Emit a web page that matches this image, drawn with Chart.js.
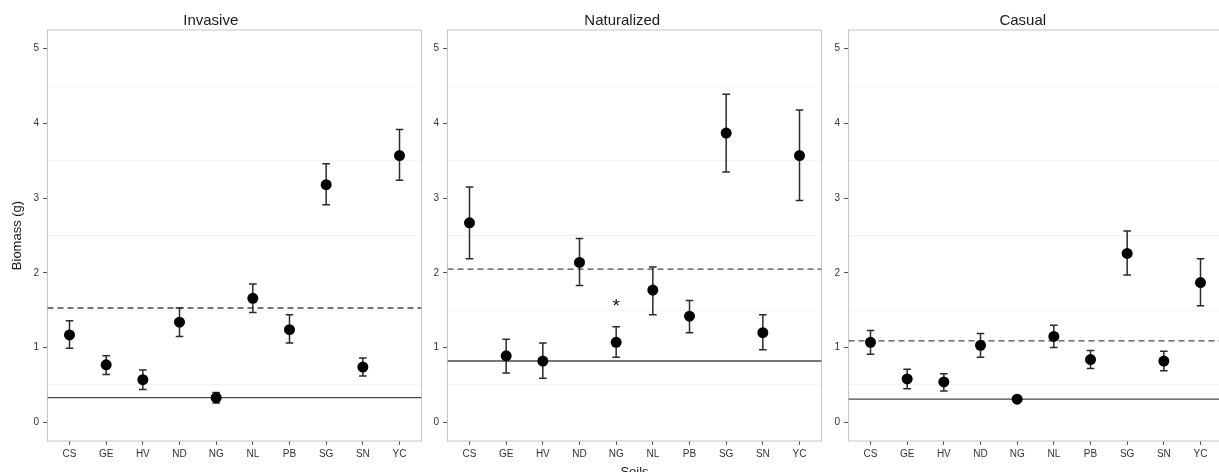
<!DOCTYPE html>
<html>
<head>
<meta charset="utf-8">
<script src="https://cdn.jsdelivr.net/npm/chart.js@4"></script>
<style>
  html, body { margin: 0; padding: 0; background: #fff; overflow: hidden; }
  #wrap { position: relative; width: 1219px; height: 472px; overflow: hidden; }
  #wrap canvas { position: absolute; top: 0; }
</style>
</head>
<body>
<div id="wrap">
  <canvas id="invasive" width="423" height="490" style="left:0px"></canvas>
  <canvas id="naturalized" width="400" height="490" style="left:423px"></canvas>
  <canvas id="casual" width="401" height="490" style="left:823px"></canvas>
</div>
<script>
const soils = ['CS', 'GE', 'HV', 'ND', 'NG', 'NL', 'PB', 'SG', 'SN', 'YC'];
const yTicks = [0, 0.5, 1, 1.5, 2, 2.5, 3, 3.5, 4, 4.5, 5];

// Invasive
const invMean  = [1.17, 0.77, 0.57, 1.34, 0.33, 1.66, 1.24, 3.18, 0.74, 3.57];
const invLower = [0.99, 0.64, 0.44, 1.15, 0.26, 1.47, 1.06, 2.91, 0.62, 3.24];
const invUpper = [1.36, 0.89, 0.70, 1.53, 0.40, 1.85, 1.44, 3.46, 0.86, 3.92];
const invDashed = 1.53;
const invSolid = 0.33;

// Naturalized
const natMean  = [2.67, 0.89, 0.82, 2.14, 1.07, 1.77, 1.42, 3.87, 1.20, 3.57];
const natLower = [2.19, 0.66, 0.59, 1.83, 0.87, 1.44, 1.20, 3.35, 0.97, 2.97];
const natUpper = [3.15, 1.11, 1.06, 2.46, 1.28, 2.08, 1.63, 4.39, 1.44, 4.18];
const natDashed = 2.05;
const natSolid = 0.82;
const natStar = { soil: 'NG', y: 1.6 };

// Casual
const casMean  = [1.07, 0.58, 0.54, 1.03, 0.31, 1.15, 0.84, 2.26, 0.82, 1.87];
const casLower = [0.91, 0.45, 0.42, 0.87, 0.28, 1.00, 0.72, 1.97, 0.69, 1.56];
const casUpper = [1.23, 0.71, 0.65, 1.19, 0.33, 1.30, 0.96, 2.56, 0.95, 2.19];
const casDashed = 1.09;
const casSolid = 0.31;

Chart.defaults.font.family = '"Liberation Sans", Arial, Helvetica, sans-serif';
Chart.defaults.animation = false;

const AREA_BOTTOM_GAP = 49;

// frame around the plot area, error bars under the points, optional star marker
const panelDecor = {
    id: 'panelDecor',
    beforeDatasetsDraw(chart) {
        const { ctx, chartArea: a } = chart;
        ctx.save();
        ctx.strokeStyle = '#c6c6c6';
        ctx.lineWidth = 1;
        ctx.strokeRect(a.left, a.top, a.right - a.left, a.bottom - a.top);
        ctx.restore();
    },
    beforeDatasetDraw(chart, args, opts) {
        if (args.index !== 0 || !opts.lower) return;
        const { ctx, scales: { x, y } } = chart;
        ctx.save();
        ctx.strokeStyle = '#2b2b2b';
        ctx.lineWidth = 1.5;
        opts.lower.forEach((lo, i) => {
            const px = x.getPixelForValue(i + 1);
            const y0 = y.getPixelForValue(lo);
            const y1 = y.getPixelForValue(opts.upper[i]);
            ctx.beginPath();
            ctx.moveTo(px, y0); ctx.lineTo(px, y1);
            ctx.moveTo(px - 3.8, y0); ctx.lineTo(px + 3.8, y0);
            ctx.moveTo(px - 3.8, y1); ctx.lineTo(px + 3.8, y1);
            ctx.stroke();
        });
        ctx.restore();
    },
    afterDatasetsDraw(chart, args, opts) {
        if (!opts.star) return;
        const { ctx, scales: { x, y } } = chart;
        const px = x.getPixelForValue(soils.indexOf(opts.star.soil) + 1);
        const py = y.getPixelForValue(opts.star.y);
        ctx.save();
        ctx.font = '19px "Liberation Sans", Arial, sans-serif';
        ctx.fillStyle = '#111';
        ctx.textAlign = 'center';
        ctx.textBaseline = 'alphabetic';
        const m = ctx.measureText('*');
        ctx.fillText('*', px, py + (m.actualBoundingBoxAscent - m.actualBoundingBoxDescent) / 2);
        ctx.restore();
    }
};

function makePanel(id, title, mean, lower, upper, dashed, solid, opts) {
    const hline = v => [{ x: 0.4, y: v }, { x: 10.6, y: v }];
    new Chart(document.getElementById(id), {
        type: 'scatter',
        data: {
            datasets: [
                {
                    data: mean.map((v, i) => ({ x: i + 1, y: v })),
                    pointRadius: 5.5,
                    pointBackgroundColor: '#000',
                    pointBorderColor: '#000',
                    pointBorderWidth: 0
                },
                {
                    type: 'line',
                    data: hline(dashed),
                    borderColor: '#4a4a4a',
                    borderWidth: 1.4,
                    borderDash: [6, 4],
                    pointRadius: 0
                },
                {
                    type: 'line',
                    data: hline(solid),
                    borderColor: '#4a4a4a',
                    borderWidth: 1.4,
                    pointRadius: 0
                }
            ]
        },
        options: {
            responsive: false,
            layout: { autoPadding: false, padding: { top: 0, left: 0, right: 1.5, bottom: 0 } },
            plugins: {
                legend: { display: false },
                tooltip: { enabled: false },
                title: {
                    display: true,
                    text: title,
                    color: '#1a1a1a',
                    font: { size: 15, weight: 'normal' },
                    padding: { top: 12, bottom: 0 }
                },
                panelDecor: { lower, upper, star: opts.star }
            },
            scales: {
                x: {
                    type: 'linear',
                    min: 0.4,
                    max: 10.6,
                    afterBuildTicks: s => { s.ticks = soils.map((_, i) => ({ value: i + 1 })); },
                    afterFit: s => {
                        s.height = AREA_BOTTOM_GAP;
                        s.paddingLeft = 0;
                        s.paddingRight = 0;
                    },
                    border: { display: false },
                    grid: { drawOnChartArea: false, tickLength: 4, tickColor: '#555', lineWidth: 1 },
                    ticks: {
                        color: '#333',
                        font: { size: 10 },
                        padding: 3,
                        maxRotation: 0,
                        autoSkip: false,
                        callback: v => soils[v - 1]
                    },
                    title: {
                        display: !!opts.xTitle,
                        text: opts.xTitle || '',
                        color: '#1a1a1a',
                        font: { size: 13 },
                        padding: { top: 0, bottom: 10 }
                    }
                },
                y: {
                    min: -0.25,
                    max: 5.25,
                    afterBuildTicks: s => { s.ticks = yTicks.map(v => ({ value: v })); },
                    afterFit: s => { s.width = opts.yWidth; },
                    border: { display: false },
                    grid: {
                        color: c => (c.tick && c.tick.value % 1 !== 0) ? '#f3f3f3' : 'rgba(0,0,0,0)',
                        tickColor: c => (c.tick && c.tick.value % 1 === 0) ? '#555' : 'rgba(0,0,0,0)',
                        tickLength: 4.5,
                        lineWidth: 1
                    },
                    ticks: {
                        color: '#333',
                        font: { size: 10 },
                        padding: 4,
                        autoSkip: false,
                        callback: v => (v % 1 === 0 ? v : '')
                    },
                    title: {
                        display: !!opts.yTitle,
                        text: opts.yTitle || '',
                        color: '#1a1a1a',
                        font: { size: 13 },
                        padding: { top: 10, bottom: 0 }
                    }
                }
            }
        },
        plugins: [panelDecor]
    });
}

makePanel('invasive', 'Invasive', invMean, invLower, invUpper, invDashed, invSolid,
    { yWidth: 47.5, yTitle: 'Biomass (g)' });
makePanel('naturalized', 'Naturalized', natMean, natLower, natUpper, natDashed, natSolid,
    { yWidth: 24.5, xTitle: 'Soils', star: natStar });
makePanel('casual', 'Casual', casMean, casLower, casUpper, casDashed, casSolid,
    { yWidth: 25.5 });
</script>
</body>
</html>
